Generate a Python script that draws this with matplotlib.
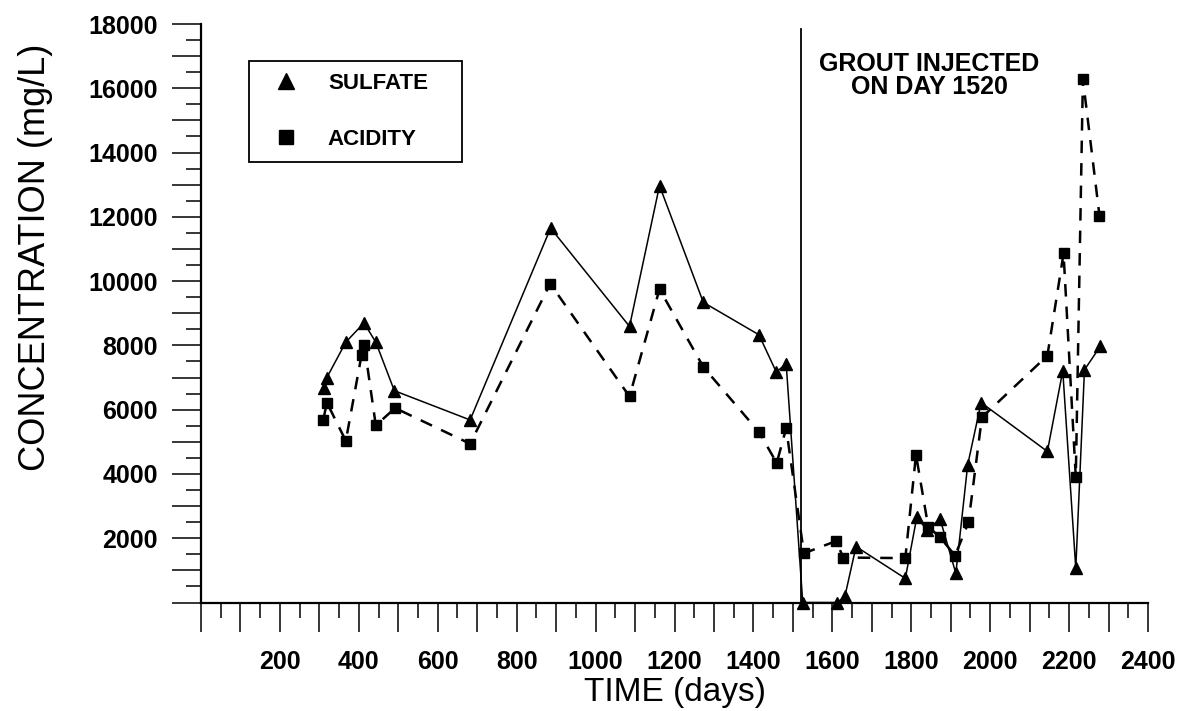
import numpy as np
import matplotlib
matplotlib.use("Agg")
import matplotlib.pyplot as plt
from matplotlib.lines import Line2D
from matplotlib.ticker import MultipleLocator, FuncFormatter

plt.rcParams['font.family'] = ['Liberation Sans', 'DejaVu Sans']

# sulfate readings (day, mg/L)
sulfate_days = [312, 319, 367, 413, 443, 490, 682, 886, 1086, 1162, 1273, 1414, 1458, 1483,
                1525, 1613, 1632, 1660, 1785, 1814, 1840, 1873, 1913, 1943, 1977,
                2145, 2184, 2217, 2239, 2279]
sulfate_vals = [6680, 7000, 8100, 8700, 8100, 6590, 5680, 11650, 8590, 12970, 9340, 8330, 7170, 7430,
                0, 0, 200, 1740, 750, 2650, 2260, 2600, 910, 4280, 6220,
                4700, 7210, 1060, 7240, 7970]

# acidity readings (day, mg/L)
acidity_days = [310, 319, 367, 407, 414, 443, 492, 682, 885, 1086, 1162, 1273, 1415, 1459, 1483,
                1528, 1609, 1628, 1785, 1812, 1843, 1873, 1911, 1945, 1979,
                2145, 2186, 2217, 2235, 2277]
acidity_vals = [5690, 6220, 5030, 7710, 8000, 5510, 6050, 4940, 9920, 6410, 9750, 7330, 5290, 4340, 5420,
                1530, 1910, 1400, 1380, 4600, 2360, 2030, 1460, 2490, 5760,
                7680, 10860, 3900, 16280, 12040]

grout_day = 1520

fig = plt.figure(figsize=(11.84, 7.11), dpi=100)
ax = fig.add_axes([201 / 1184, 1 - 602.5 / 711, 947 / 1184, 578.5 / 711])

# markers sitting on zero should stay fully visible over the axis
ax.plot(sulfate_days, sulfate_vals, color='black', lw=1.1, marker='^', ms=9,
        linestyle='-', label='SULFATE', clip_on=False, zorder=4)
ax.plot(acidity_days, acidity_vals, color='black', lw=1.8, marker='s', ms=7,
        linestyle=(0, (5, 4)), label='ACIDITY', clip_on=False, zorder=3)

# grout injection marker
ax.axvline(grout_day, ymin=0, ymax=0.991, color='black', lw=1.3)
ax.text(1845, 16400, 'GROUT INJECTED\nON DAY 1520', ha='center', va='center',
        fontsize=18, fontweight='bold', linespacing=0.98)

ax.set_xlim(0, 2400)
ax.set_ylim(0, 18000)

for s in ['top', 'right']:
    ax.spines[s].set_visible(False)
for s in ['left', 'bottom']:
    ax.spines[s].set_linewidth(1.6)

ax.xaxis.set_major_locator(MultipleLocator(100))
ax.xaxis.set_minor_locator(MultipleLocator(50))
ax.yaxis.set_major_locator(MultipleLocator(1000))
ax.yaxis.set_minor_locator(MultipleLocator(500))
ax.xaxis.set_major_formatter(FuncFormatter(lambda v, p: '' if v == 0 or v % 200 else f'{int(v)}'))
ax.yaxis.set_major_formatter(FuncFormatter(lambda v, p: '' if v == 0 or v % 2000 else f'{int(v)}'))

ax.tick_params(which='major', direction='out', length=21, width=1.1, labelsize=18, pad=13)
ax.tick_params(which='minor', direction='out', length=11, width=1.1)
ax.tick_params(axis='y', which='major', pad=10)
for lbl in ax.get_xticklabels() + ax.get_yticklabels():
    lbl.set_fontweight('bold')

ax.set_xlabel('TIME (days)', fontsize=24, va='center')
ax.xaxis.set_label_coords(0.5005, -0.155)
ax.set_ylabel('CONCENTRATION (mg/L)', fontsize=26, va='center')
ax.yaxis.set_label_coords(-0.175, 0.596)

handles = [Line2D([], [], color='black', marker='^', ms=12, linestyle='none'),
           Line2D([], [], color='black', marker='s', ms=10, linestyle='none')]
leg = ax.legend(handles, ['SULFATE', 'ACIDITY'], loc='upper left', mode='expand',
                bbox_to_anchor=(249 / 1184, 1 - 169 / 711, 213 / 1184, 108 / 711),
                bbox_transform=fig.transFigure,
                borderaxespad=0, fancybox=False, edgecolor='black', framealpha=1,
                borderpad=0.55, handlelength=2.2, handletextpad=0.8, labelspacing=1.55,
                prop={'size': 16, 'weight': 'bold'})
leg.get_frame().set_linewidth(1.3)
leg.set_zorder(5)

fig.savefig('out.png', dpi=100)
